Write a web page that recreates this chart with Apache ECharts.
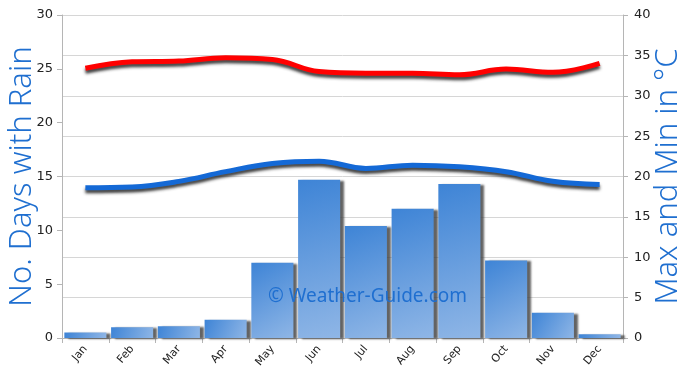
<!DOCTYPE html>
<html><head><meta charset="utf-8">
<script src="https://cdn.jsdelivr.net/npm/echarts@6/dist/echarts.min.js"></script>
<style>html,body{margin:0;padding:0;background:#fff}#c{width:690px;height:382px}</style>
</head><body><div id="c"></div>
<script>
const months = ['Jan','Feb','Mar','Apr','May','Jun','Jul','Aug','Sep','Oct','Nov','Dec'];
const rainDays = [0.5, 1.0, 1.1, 1.7, 7.0, 14.7, 10.4, 12.0, 14.3, 7.2, 2.35, 0.35];
const maxTemp = [33.4, 34.2, 34.3, 34.7, 34.5, 33.0, 32.8, 32.8, 32.6, 33.3, 32.9, 34.0];
const minTemp = [18.6, 18.7, 19.4, 20.6, 21.6, 21.9, 21.0, 21.4, 21.2, 20.6, 19.4, 19.0];
const leftTicks = [0, 30, 5];
const rightTicks = [0, 40, 5];

const chart = echarts.init(document.getElementById('c'), null, {renderer: 'canvas'});
const labelFont = 'DejaVu Sans';
const titleColor = '#1f6fd0';
chart.setOption({
  animation: false,
  grid: {left: 62, right: 67, top: 15, bottom: 44, containLabel: false, outerBoundsMode: 'none'},
  xAxis: {
    type: 'category', data: months,
    axisLine: {lineStyle: {color: '#b5b5b5', width: 1}},
    axisTick: {show: true, length: 5, lineStyle: {color: '#b5b5b5'}},
    axisLabel: {rotate: 50, fontSize: 11, color: '#222', fontFamily: labelFont, margin: 9}
  },
  yAxis: [
    {
      type: 'value', min: leftTicks[0], max: leftTicks[1], interval: leftTicks[2],
      name: 'No. Days with Rain', nameLocation: 'middle', nameGap: 24, nameMoveOverlap: false,
      nameTextStyle: {fontSize: 31, color: titleColor, fontFamily: 'Noto Sans', fontWeight: 300},
      axisLine: {show: true, lineStyle: {color: '#b5b5b5'}},
      axisTick: {show: true, length: 5, lineStyle: {color: '#b5b5b5'}},
      axisLabel: {fontSize: 13, color: '#222', fontFamily: labelFont, margin: 9},
      splitLine: {show: false}
    },
    {
      type: 'value', min: rightTicks[0], max: rightTicks[1], interval: rightTicks[2],
      name: 'Max and Min in °C', nameLocation: 'middle', nameGap: 30, nameRotate: 90, nameMoveOverlap: false,
      nameTextStyle: {fontSize: 31, color: titleColor, fontFamily: 'Noto Sans', fontWeight: 300},
      axisLine: {show: true, lineStyle: {color: '#b5b5b5'}},
      axisTick: {show: true, length: 5, lineStyle: {color: '#b5b5b5'}},
      axisLabel: {fontSize: 13, color: '#222', fontFamily: labelFont, margin: 11},
      splitLine: {show: true, lineStyle: {color: '#d6d6d6', width: 1}}
    }
  ],
  series: [
    {
      type: 'bar', yAxisIndex: 0, data: rainDays, barCategoryGap: '10%',
      itemStyle: {
        color: new echarts.graphic.LinearGradient(0, 0, 1, 1, [
          {offset: 0, color: '#3e84d6'}, {offset: 1, color: '#8fb6e6'}
        ]),
        shadowColor: 'rgba(60,60,60,0.8)', shadowOffsetX: 4, shadowOffsetY: 1, shadowBlur: 2
      },
      z: 2
    },
    {
      type: 'line', yAxisIndex: 1, data: maxTemp, smooth: 0.4, symbol: 'none',
      lineStyle: {color: '#ff0000', width: 5, shadowColor: 'rgba(30,30,30,0.85)', shadowOffsetY: 3, shadowBlur: 3},
      z: 3
    },
    {
      type: 'line', yAxisIndex: 1, data: minTemp, smooth: 0.4, symbol: 'none',
      lineStyle: {color: '#1469d6', width: 5, shadowColor: 'rgba(30,30,30,0.85)', shadowOffsetY: 3, shadowBlur: 3},
      z: 3
    }
  ],
  graphic: [{
    type: 'text', left: 268, top: 287, z: 10,
    style: {text: '© Weather-Guide.com', fontSize: 19, fill: '#1f6fd0', fontFamily: 'Noto Sans'}
  }]
});
</script></body></html>
